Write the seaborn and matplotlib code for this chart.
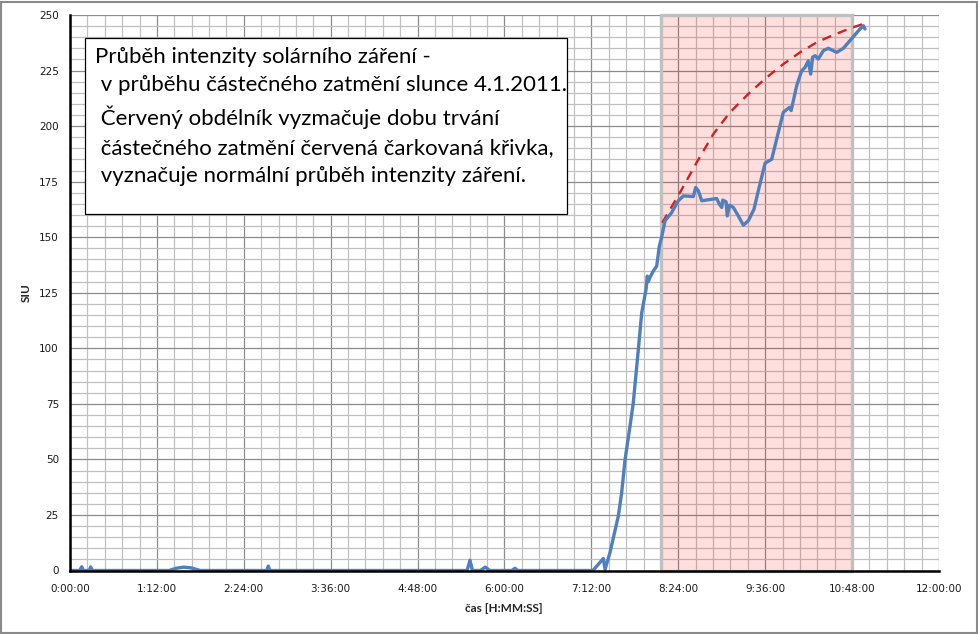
import matplotlib
matplotlib.use("Agg")
import matplotlib.pyplot as plt
import matplotlib.ticker as mticker
from matplotlib.patches import Rectangle
import numpy as np
import pandas as pd
import seaborn as sns

# ---- data (time in minutes after midnight, intensity in SIU) ----
measured_time = [0, 8, 9.7, 11, 16, 17.1, 18.5, 82, 88, 94, 100, 108, 163, 164.3, 165.5,
                 329, 331.4, 333.5, 340, 344, 348, 366, 368.7, 371, 433.3,
                 441.9, 443.3, 447.4, 454.3, 457.1, 459.9, 464, 466.7, 470.9, 473.7, 477.3,
                 478.3, 479.2, 480.6, 483.3, 486.1, 488.3, 490.2, 493, 498.5, 504, 508.2,
                 516.5, 518.4, 520.6, 523.4, 535.8, 538, 540, 540.8, 543.6, 544.6, 546.3,
                 549.6, 553.7, 557.9, 562, 566.7, 570.3, 575.9, 581.4, 586.9, 591, 596,
                 597.5, 602.1, 606.2, 609, 611.7, 613.7, 615.3, 617.3, 620, 624.2, 628.3,
                 635.2, 640.7, 648.5, 653.2, 657.3, 658.7]
measured_siu = [0, 0, 1.7, 0, 0, 1.6, 0, 0, 1.0, 1.5, 1.2, 0, 0, 2.0, 0,
                0, 4.6, 0, 0, 1.5, 0, 0, 1.0, 0, 0,
                5.4, 0.5, 8.1, 24.5, 35.1, 50, 65, 75.5, 99.5, 116, 126.6,
                132.5, 130, 132, 134.8, 137, 146, 150, 157.4, 161.1, 166.4, 168.6,
                168.3, 172.4, 170.9, 166.4, 167.4, 164.9, 163.4, 166.7, 165.9, 159.6, 164.4,
                163.4, 159.6, 155.4, 157.4, 162.6, 170.9, 183.3, 185.1, 197.2, 206.2, 208.4,
                207, 218.2, 224.9, 226.4, 229.4, 223.4, 231, 231.7, 230.2, 234, 235,
                233.2, 235, 239.9, 242.9, 245.2, 243.7]

normal_time = [490.7, 505.4, 519.2, 533, 546.8, 563.4, 577.2, 591, 604.9, 618.7, 632.5, 646.3, 657.3]
normal_siu = [156.5, 170.1, 183.6, 196.4, 206.2, 215.2, 221.9, 227.9, 233.2, 237.7, 241, 244, 246]

eclipse_start = 490   # 8:10
eclipse_end = 648     # 10:48

x_ticks = [0, 72, 144, 216, 288, 360, 432, 504, 576, 648, 720]
y_ticks = [0, 25, 50, 75, 100, 125, 150, 175, 200, 225, 250]

note_lines = ["Průběh intenzity solárního záření -",
              " v průběhu částečného zatmění slunce 4.1.2011.",
              " Červený obdélník vyzmačuje dobu trvání",
              " částečného zatmění červená čarkovaná křivka,",
              " vyznačuje normální průběh intenzity záření."]

def fmt_time(m, pos=None):
    m = int(round(m))
    return f"{m // 60}:{m % 60:02d}:00"

df_meas = pd.DataFrame({"t": measured_time, "siu": measured_siu})
df_norm = pd.DataFrame({"t": normal_time, "siu": normal_siu})

sns.set_theme(style="white")
plt.rcParams["font.family"] = ["DejaVu Sans"]

fig = plt.figure(figsize=(9.79, 6.34), dpi=100)
W, H = 979, 634
ax = fig.add_axes([70 / W, (H - 570.5) / H, 869 / W, (570.5 - 15) / H])

# grid
ax.set_xlim(0, 720)
ax.set_ylim(0, 250)
ax.xaxis.set_major_locator(mticker.FixedLocator(x_ticks))
ax.yaxis.set_major_locator(mticker.FixedLocator(y_ticks))
ax.xaxis.set_minor_locator(mticker.MultipleLocator(14.4))
ax.yaxis.set_minor_locator(mticker.MultipleLocator(5))
ax.xaxis.set_major_formatter(mticker.FuncFormatter(fmt_time))
ax.grid(which="major", color="#8c8c8c", lw=0.9, zorder=0)
ax.grid(which="minor", color="#c0c0c0", lw=0.9, zorder=0)
ax.set_axisbelow(True)

# eclipse rectangle
ax.add_patch(Rectangle((eclipse_start, 0), eclipse_end - eclipse_start, 250,
                       facecolor=(1.0, 0.0, 0.0, 0.13), edgecolor="none", zorder=1))
ax.add_patch(Rectangle((eclipse_start, 0), eclipse_end - eclipse_start, 250,
                       facecolor="none", edgecolor="#c0c0c0", lw=2.4, zorder=1.5,
                       clip_on=False))

sns.lineplot(data=df_meas, x="t", y="siu", ax=ax, color="#4f7fbd", lw=2.4,
             estimator=None, sort=False, zorder=3)
sns.lineplot(data=df_norm, x="t", y="siu", ax=ax, color="#d42020", lw=1.7,
             estimator=None, sort=False, zorder=2.5, dashes=False, linestyle=(0, (4, 3)))

# spines
for s in ["top", "right"]:
    ax.spines[s].set_visible(False)
for s in ["left", "bottom"]:
    ax.spines[s].set_color("black")
    ax.spines[s].set_linewidth(1.8)
    ax.spines[s].set_zorder(4)

ax.tick_params(which="major", direction="out", length=4, width=1.5, color="black",
               labelsize=7.5, labelcolor="#1a1a1a", pad=4)
ax.tick_params(which="minor", length=0)
ax.tick_params(axis="x", pad=6)

ax.set_xlabel("čas [H:MM:SS]", fontsize=8.5, fontweight="bold", family=["Lato", "DejaVu Sans"])
ax.set_ylabel("SIU", fontsize=8.5, fontweight="bold", family=["Lato", "DejaVu Sans"])
ax.xaxis.set_label_coords((503.5 - 70) / 869, -(608 - 570.5) / 555.5)
ax.yaxis.set_label_coords((26 - 70) / 869, (570.5 - 293) / 555.5)
ax.xaxis.label.set_va("center")
ax.yaxis.label.set_va("center")
ax.yaxis.label.set_ha("center")

# note box
x0 = (85 - 70) / 1.2069
x1 = (567 - 70) / 1.2069
y0 = (570.5 - 214) / 2.222
y1 = (570.5 - 38) / 2.222
ax.add_patch(Rectangle((x0, y0), x1 - x0, y1 - y0, facecolor="white",
                       edgecolor="black", lw=0.9, zorder=5))
ax.text((95 - 70) / 1.2069, (570.5 - 47) / 2.222, "\n".join(note_lines),
        ha="left", va="top", fontsize=16, family=["Lato", "DejaVu Sans"],
        color="black", linespacing=1.53, zorder=6)

# outer chart border
fig.add_artist(Rectangle((1 / W, 1 / H), (W - 3) / W, (H - 3) / H, transform=fig.transFigure,
                         facecolor="none", edgecolor="#8a8a8a", lw=1.5))

fig.savefig("out.png", dpi=100, facecolor="white")
